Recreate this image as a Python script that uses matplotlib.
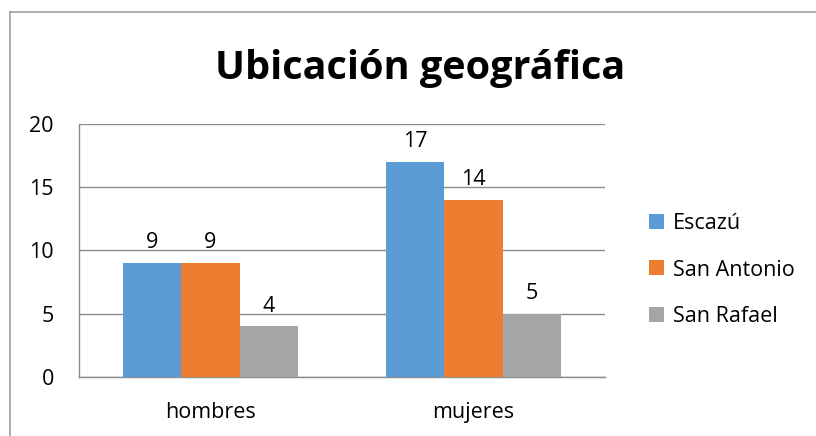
import matplotlib
matplotlib.use("Agg")
import matplotlib.pyplot as plt
from matplotlib.patches import Patch
import numpy as np

categories = ["hombres", "mujeres"]
series_names = ["Escazú", "San Antonio", "San Rafael"]
escazu = [9, 17]
san_antonio = [9, 14]
san_rafael = [4, 5]
y_ticks = [0, 5, 10, 15, 20]
title = "Ubicación geográfica"

colors = ["#5B9BD5", "#ED7D31", "#A5A5A5"]
values = [escazu, san_antonio, san_rafael]

plt.rcParams['font.family'] = ['Open Sans', 'DejaVu Sans']

W, H = 816, 436
fig = plt.figure(figsize=(W / 100, H / 100), dpi=100)
fig.patch.set_facecolor("white")

left, right, top, bottom = 79, 605, 124, 377
ax = fig.add_axes([left / W, 1 - bottom / H, (right - left) / W, (bottom - top) / H])

FS = 15.5
x = np.arange(len(categories))
bw = 0.222
for i, (vals, c) in enumerate(zip(values, colors)):
    pos = x + (i - 1) * bw
    ax.bar(pos, vals, width=bw, color=c, zorder=3, label=series_names[i])
    for p, v in zip(pos, vals):
        ax.annotate(str(v), (p, v), xytext=(0, 7), textcoords="offset points",
                    ha="center", va="bottom", fontsize=FS, color="#000000")

ax.set_xlim(-0.5, 1.5)
ax.set_ylim(0, 20)
ax.set_yticks(y_ticks)
ax.set_yticklabels([str(t) for t in y_ticks], fontsize=FS)
ax.set_xticks(x)
ax.set_xticklabels(categories, fontsize=FS)
ax.tick_params(axis="both", length=0)
ax.tick_params(axis="y", pad=18)
ax.tick_params(axis="x", pad=18)
ax.grid(axis="y", color="#8C8C8C", linewidth=1.0, zorder=0)
for s in ["top", "right"]:
    ax.spines[s].set_visible(False)
ax.spines["left"].set_color("#8C8C8C")
ax.spines["bottom"].set_color("#8C8C8C")
ax.spines["left"].set_linewidth(1.0)
ax.spines["bottom"].set_linewidth(1.0)

fig.text(420 / W, 1 - 68 / H, title, ha="center", va="center",
         fontsize=28.5, fontweight="bold", color="#000000")

handles = [Patch(facecolor=c, edgecolor="none") for c in colors]
fig.legend(handles, series_names, loc="center left",
           bbox_to_anchor=(632 / W, 1 - 270 / H), frameon=False,
           fontsize=FS, handlelength=0.7, handleheight=0.7,
           handletextpad=0.4, labelspacing=1.2, borderpad=0.3)

fig.add_artist(plt.Line2D([10 / W, 10 / W], [0, 1 - 12 / H], color="#A0A0A0",
                          linewidth=1.2, transform=fig.transFigure))
fig.add_artist(plt.Line2D([10 / W, 815 / W], [1 - 12 / H, 1 - 12 / H], color="#A0A0A0",
                          linewidth=1.2, transform=fig.transFigure))

fig.savefig("out.png", dpi=100, facecolor="white")
